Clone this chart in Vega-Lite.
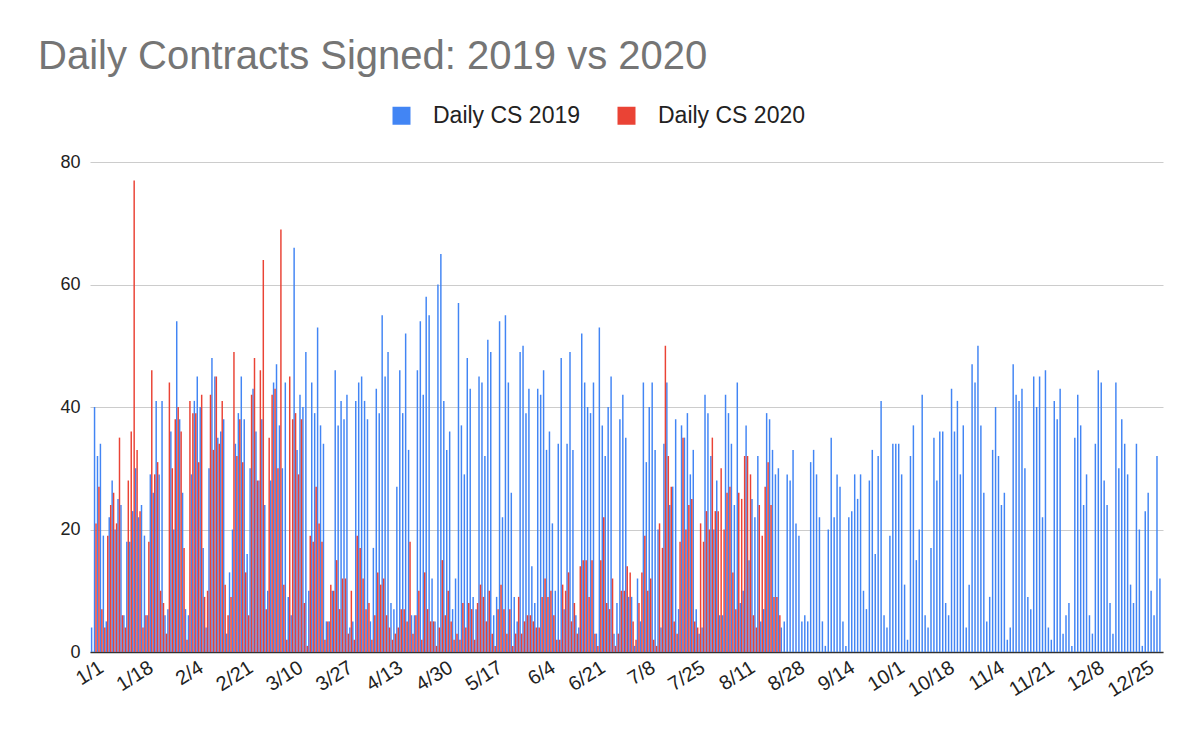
{
"$schema": "https://vega.github.io/schema/vega-lite/v6.json",
"width": 1073, "height": 490,
"autosize": {"type": "none"},
"padding": {"left": 90, "top": 162, "right": 37, "bottom": 90},
"background": "white",
"title": {"text": "Daily Contracts Signed: 2019 vs 2020", "anchor": "start", "frame": "group", "fontSize": 40, "font": "Liberation Sans", "fontWeight": "normal", "color": "#757575", "dx": -52, "dy": 0, "offset": 27},
"data": {"values": [
{"d":"1/1","s":"2019","v":4},{"d":"1/2","s":"2019","v":40},{"d":"1/3","s":"2019","v":32},{"d":"1/4","s":"2019","v":34},{"d":"1/5","s":"2019","v":19},{"d":"1/6","s":"2019","v":5},{"d":"1/7","s":"2019","v":22},{"d":"1/8","s":"2019","v":28},{"d":"1/9","s":"2019","v":20},{"d":"1/10","s":"2019","v":25},{"d":"1/11","s":"2019","v":24},{"d":"1/12","s":"2019","v":6},{"d":"1/13","s":"2019","v":18},{"d":"1/14","s":"2019","v":18},{"d":"1/15","s":"2019","v":23},{"d":"1/16","s":"2019","v":30},{"d":"1/17","s":"2019","v":22},{"d":"1/18","s":"2019","v":24},{"d":"1/19","s":"2019","v":19},{"d":"1/20","s":"2019","v":6},{"d":"1/21","s":"2019","v":29},{"d":"1/22","s":"2019","v":26},{"d":"1/23","s":"2019","v":41},{"d":"1/24","s":"2019","v":29},{"d":"1/25","s":"2019","v":41},{"d":"1/26","s":"2019","v":6},{"d":"1/27","s":"2019","v":7},{"d":"1/28","s":"2019","v":36},{"d":"1/29","s":"2019","v":20},{"d":"1/30","s":"2019","v":54},{"d":"1/31","s":"2019","v":38},
{"d":"2/1","s":"2019","v":26},{"d":"2/2","s":"2019","v":7},{"d":"2/3","s":"2019","v":6},{"d":"2/4","s":"2019","v":29},{"d":"2/5","s":"2019","v":41},{"d":"2/6","s":"2019","v":45},{"d":"2/7","s":"2019","v":40},{"d":"2/8","s":"2019","v":17},{"d":"2/9","s":"2019","v":4},{"d":"2/10","s":"2019","v":30},{"d":"2/11","s":"2019","v":48},{"d":"2/12","s":"2019","v":45},{"d":"2/13","s":"2019","v":35},{"d":"2/14","s":"2019","v":36},{"d":"2/15","s":"2019","v":38},{"d":"2/16","s":"2019","v":3},{"d":"2/17","s":"2019","v":13},{"d":"2/18","s":"2019","v":20},{"d":"2/19","s":"2019","v":34},{"d":"2/20","s":"2019","v":39},{"d":"2/21","s":"2019","v":45},{"d":"2/22","s":"2019","v":38},{"d":"2/23","s":"2019","v":16},{"d":"2/24","s":"2019","v":30},{"d":"2/25","s":"2019","v":43},{"d":"2/26","s":"2019","v":36},{"d":"2/27","s":"2019","v":28},{"d":"2/28","s":"2019","v":38},
{"d":"3/1","s":"2019","v":24},{"d":"3/2","s":"2019","v":10},{"d":"3/3","s":"2019","v":28},{"d":"3/4","s":"2019","v":44},{"d":"3/5","s":"2019","v":47},{"d":"3/6","s":"2019","v":37},{"d":"3/7","s":"2019","v":30},{"d":"3/8","s":"2019","v":44},{"d":"3/9","s":"2019","v":9},{"d":"3/10","s":"2019","v":6},{"d":"3/11","s":"2019","v":66},{"d":"3/12","s":"2019","v":33},{"d":"3/13","s":"2019","v":42},{"d":"3/14","s":"2019","v":40},{"d":"3/15","s":"2019","v":49},{"d":"3/16","s":"2019","v":10},{"d":"3/17","s":"2019","v":44},{"d":"3/18","s":"2019","v":39},{"d":"3/19","s":"2019","v":53},{"d":"3/20","s":"2019","v":37},{"d":"3/21","s":"2019","v":34},{"d":"3/22","s":"2019","v":5},{"d":"3/23","s":"2019","v":5},{"d":"3/24","s":"2019","v":10},{"d":"3/25","s":"2019","v":46},{"d":"3/26","s":"2019","v":37},{"d":"3/27","s":"2019","v":41},{"d":"3/28","s":"2019","v":38},{"d":"3/29","s":"2019","v":42},{"d":"3/30","s":"2019","v":4},{"d":"3/31","s":"2019","v":5},
{"d":"4/1","s":"2019","v":41},{"d":"4/2","s":"2019","v":44},{"d":"4/3","s":"2019","v":45},{"d":"4/4","s":"2019","v":41},{"d":"4/5","s":"2019","v":38},{"d":"4/6","s":"2019","v":5},{"d":"4/7","s":"2019","v":17},{"d":"4/8","s":"2019","v":43},{"d":"4/9","s":"2019","v":39},{"d":"4/10","s":"2019","v":55},{"d":"4/11","s":"2019","v":45},{"d":"4/12","s":"2019","v":49},{"d":"4/13","s":"2019","v":8},{"d":"4/14","s":"2019","v":7},{"d":"4/15","s":"2019","v":27},{"d":"4/16","s":"2019","v":46},{"d":"4/17","s":"2019","v":39},{"d":"4/18","s":"2019","v":52},{"d":"4/19","s":"2019","v":33},{"d":"4/20","s":"2019","v":6},{"d":"4/21","s":"2019","v":6},{"d":"4/22","s":"2019","v":46},{"d":"4/23","s":"2019","v":54},{"d":"4/24","s":"2019","v":42},{"d":"4/25","s":"2019","v":58},{"d":"4/26","s":"2019","v":55},{"d":"4/27","s":"2019","v":12},{"d":"4/28","s":"2019","v":5},{"d":"4/29","s":"2019","v":60},{"d":"4/30","s":"2019","v":65},
{"d":"5/1","s":"2019","v":41},{"d":"5/2","s":"2019","v":33},{"d":"5/3","s":"2019","v":36},{"d":"5/4","s":"2019","v":7},{"d":"5/5","s":"2019","v":12},{"d":"5/6","s":"2019","v":57},{"d":"5/7","s":"2019","v":37},{"d":"5/8","s":"2019","v":29},{"d":"5/9","s":"2019","v":48},{"d":"5/10","s":"2019","v":43},{"d":"5/11","s":"2019","v":9},{"d":"5/12","s":"2019","v":7},{"d":"5/13","s":"2019","v":45},{"d":"5/14","s":"2019","v":44},{"d":"5/15","s":"2019","v":32},{"d":"5/16","s":"2019","v":51},{"d":"5/17","s":"2019","v":49},{"d":"5/18","s":"2019","v":6},{"d":"5/19","s":"2019","v":9},{"d":"5/20","s":"2019","v":54},{"d":"5/21","s":"2019","v":22},{"d":"5/22","s":"2019","v":55},{"d":"5/23","s":"2019","v":44},{"d":"5/24","s":"2019","v":26},{"d":"5/25","s":"2019","v":9},{"d":"5/26","s":"2019","v":5},{"d":"5/27","s":"2019","v":49},{"d":"5/28","s":"2019","v":50},{"d":"5/29","s":"2019","v":39},{"d":"5/30","s":"2019","v":43},{"d":"5/31","s":"2019","v":14},
{"d":"6/1","s":"2019","v":8},{"d":"6/2","s":"2019","v":43},{"d":"6/3","s":"2019","v":42},{"d":"6/4","s":"2019","v":46},{"d":"6/5","s":"2019","v":33},{"d":"6/6","s":"2019","v":36},{"d":"6/7","s":"2019","v":21},{"d":"6/8","s":"2019","v":10},{"d":"6/9","s":"2019","v":34},{"d":"6/10","s":"2019","v":48},{"d":"6/11","s":"2019","v":7},{"d":"6/12","s":"2019","v":34},{"d":"6/13","s":"2019","v":49},{"d":"6/14","s":"2019","v":33},{"d":"6/15","s":"2019","v":6},{"d":"6/16","s":"2019","v":4},{"d":"6/17","s":"2019","v":52},{"d":"6/18","s":"2019","v":44},{"d":"6/19","s":"2019","v":40},{"d":"6/20","s":"2019","v":39},{"d":"6/21","s":"2019","v":44},{"d":"6/22","s":"2019","v":3},{"d":"6/23","s":"2019","v":53},{"d":"6/24","s":"2019","v":37},{"d":"6/25","s":"2019","v":32},{"d":"6/26","s":"2019","v":40},{"d":"6/27","s":"2019","v":45},{"d":"6/28","s":"2019","v":3},{"d":"6/29","s":"2019","v":8},{"d":"6/30","s":"2019","v":38},
{"d":"7/1","s":"2019","v":42},{"d":"7/2","s":"2019","v":35},{"d":"7/3","s":"2019","v":9},{"d":"7/4","s":"2019","v":9},{"d":"7/5","s":"2019","v":1},{"d":"7/6","s":"2019","v":12},{"d":"7/7","s":"2019","v":5},{"d":"7/8","s":"2019","v":44},{"d":"7/9","s":"2019","v":31},{"d":"7/10","s":"2019","v":40},{"d":"7/11","s":"2019","v":44},{"d":"7/12","s":"2019","v":33},{"d":"7/13","s":"2019","v":20},{"d":"7/14","s":"2019","v":4},{"d":"7/15","s":"2019","v":34},{"d":"7/16","s":"2019","v":44},{"d":"7/17","s":"2019","v":24},{"d":"7/18","s":"2019","v":27},{"d":"7/19","s":"2019","v":38},{"d":"7/20","s":"2019","v":7},{"d":"7/21","s":"2019","v":37},{"d":"7/22","s":"2019","v":35},{"d":"7/23","s":"2019","v":39},{"d":"7/24","s":"2019","v":29},{"d":"7/25","s":"2019","v":33},{"d":"7/26","s":"2019","v":7},{"d":"7/27","s":"2019","v":3},{"d":"7/28","s":"2019","v":4},{"d":"7/29","s":"2019","v":42},{"d":"7/30","s":"2019","v":39},{"d":"7/31","s":"2019","v":32},
{"d":"8/1","s":"2019","v":20},{"d":"8/2","s":"2019","v":28},{"d":"8/3","s":"2019","v":6},{"d":"8/4","s":"2019","v":6},{"d":"8/5","s":"2019","v":42},{"d":"8/6","s":"2019","v":39},{"d":"8/7","s":"2019","v":34},{"d":"8/8","s":"2019","v":24},{"d":"8/9","s":"2019","v":44},{"d":"8/10","s":"2019","v":8},{"d":"8/11","s":"2019","v":10},{"d":"8/12","s":"2019","v":37},{"d":"8/13","s":"2019","v":15},{"d":"8/14","s":"2019","v":25},{"d":"8/15","s":"2019","v":22},{"d":"8/16","s":"2019","v":32},{"d":"8/17","s":"2019","v":5},{"d":"8/18","s":"2019","v":7},{"d":"8/19","s":"2019","v":39},{"d":"8/20","s":"2019","v":38},{"d":"8/21","s":"2019","v":33},{"d":"8/22","s":"2019","v":29},{"d":"8/23","s":"2019","v":30},{"d":"8/24","s":"2019","v":4},{"d":"8/25","s":"2019","v":5},{"d":"8/26","s":"2019","v":29},{"d":"8/27","s":"2019","v":28},{"d":"8/28","s":"2019","v":33},{"d":"8/29","s":"2019","v":21},{"d":"8/30","s":"2019","v":19},{"d":"8/31","s":"2019","v":5},
{"d":"9/1","s":"2019","v":6},{"d":"9/2","s":"2019","v":5},{"d":"9/3","s":"2019","v":31},{"d":"9/4","s":"2019","v":33},{"d":"9/5","s":"2019","v":29},{"d":"9/6","s":"2019","v":22},{"d":"9/7","s":"2019","v":5},{"d":"9/8","s":"2019","v":1},{"d":"9/9","s":"2019","v":20},{"d":"9/10","s":"2019","v":35},{"d":"9/11","s":"2019","v":22},{"d":"9/12","s":"2019","v":29},{"d":"9/13","s":"2019","v":27},{"d":"9/14","s":"2019","v":5},{"d":"9/15","s":"2019","v":1},{"d":"9/16","s":"2019","v":22},{"d":"9/17","s":"2019","v":23},{"d":"9/18","s":"2019","v":29},{"d":"9/19","s":"2019","v":25},{"d":"9/20","s":"2019","v":29},{"d":"9/21","s":"2019","v":10},{"d":"9/22","s":"2019","v":7},{"d":"9/23","s":"2019","v":28},{"d":"9/24","s":"2019","v":33},{"d":"9/25","s":"2019","v":16},{"d":"9/26","s":"2019","v":32},{"d":"9/27","s":"2019","v":41},{"d":"9/28","s":"2019","v":6},{"d":"9/29","s":"2019","v":4},{"d":"9/30","s":"2019","v":19},
{"d":"10/1","s":"2019","v":34},{"d":"10/2","s":"2019","v":34},{"d":"10/3","s":"2019","v":34},{"d":"10/4","s":"2019","v":29},{"d":"10/5","s":"2019","v":11},{"d":"10/6","s":"2019","v":2},{"d":"10/7","s":"2019","v":32},{"d":"10/8","s":"2019","v":37},{"d":"10/9","s":"2019","v":15},{"d":"10/10","s":"2019","v":20},{"d":"10/11","s":"2019","v":42},{"d":"10/12","s":"2019","v":6},{"d":"10/13","s":"2019","v":4},{"d":"10/14","s":"2019","v":17},{"d":"10/15","s":"2019","v":35},{"d":"10/16","s":"2019","v":28},{"d":"10/17","s":"2019","v":36},{"d":"10/18","s":"2019","v":36},{"d":"10/19","s":"2019","v":8},{"d":"10/20","s":"2019","v":6},{"d":"10/21","s":"2019","v":43},{"d":"10/22","s":"2019","v":36},{"d":"10/23","s":"2019","v":41},{"d":"10/24","s":"2019","v":29},{"d":"10/25","s":"2019","v":37},{"d":"10/26","s":"2019","v":4},{"d":"10/27","s":"2019","v":11},{"d":"10/28","s":"2019","v":47},{"d":"10/29","s":"2019","v":44},{"d":"10/30","s":"2019","v":50},{"d":"10/31","s":"2019","v":37},
{"d":"11/1","s":"2019","v":26},{"d":"11/2","s":"2019","v":5},{"d":"11/3","s":"2019","v":9},{"d":"11/4","s":"2019","v":33},{"d":"11/5","s":"2019","v":40},{"d":"11/6","s":"2019","v":32},{"d":"11/7","s":"2019","v":24},{"d":"11/8","s":"2019","v":26},{"d":"11/9","s":"2019","v":2},{"d":"11/10","s":"2019","v":4},{"d":"11/11","s":"2019","v":47},{"d":"11/12","s":"2019","v":42},{"d":"11/13","s":"2019","v":41},{"d":"11/14","s":"2019","v":43},{"d":"11/15","s":"2019","v":30},{"d":"11/16","s":"2019","v":9},{"d":"11/17","s":"2019","v":7},{"d":"11/18","s":"2019","v":45},{"d":"11/19","s":"2019","v":40},{"d":"11/20","s":"2019","v":45},{"d":"11/21","s":"2019","v":22},{"d":"11/22","s":"2019","v":46},{"d":"11/23","s":"2019","v":4},{"d":"11/24","s":"2019","v":2},{"d":"11/25","s":"2019","v":41},{"d":"11/26","s":"2019","v":38},{"d":"11/27","s":"2019","v":43},{"d":"11/28","s":"2019","v":3},{"d":"11/29","s":"2019","v":6},{"d":"11/30","s":"2019","v":8},
{"d":"12/1","s":"2019","v":1},{"d":"12/2","s":"2019","v":35},{"d":"12/3","s":"2019","v":42},{"d":"12/4","s":"2019","v":37},{"d":"12/5","s":"2019","v":24},{"d":"12/6","s":"2019","v":29},{"d":"12/7","s":"2019","v":6},{"d":"12/8","s":"2019","v":3},{"d":"12/9","s":"2019","v":34},{"d":"12/10","s":"2019","v":46},{"d":"12/11","s":"2019","v":44},{"d":"12/12","s":"2019","v":28},{"d":"12/13","s":"2019","v":24},{"d":"12/14","s":"2019","v":8},{"d":"12/15","s":"2019","v":3},{"d":"12/16","s":"2019","v":44},{"d":"12/17","s":"2019","v":30},{"d":"12/18","s":"2019","v":38},{"d":"12/19","s":"2019","v":34},{"d":"12/20","s":"2019","v":29},{"d":"12/21","s":"2019","v":11},{"d":"12/22","s":"2019","v":8},{"d":"12/23","s":"2019","v":34},{"d":"12/24","s":"2019","v":20},{"d":"12/25","s":"2019","v":1},{"d":"12/26","s":"2019","v":23},{"d":"12/27","s":"2019","v":26},{"d":"12/28","s":"2019","v":10},{"d":"12/29","s":"2019","v":6},{"d":"12/30","s":"2019","v":32},{"d":"12/31","s":"2019","v":12},
{"d":"1/2","s":"2020","v":21},{"d":"1/3","s":"2020","v":27},{"d":"1/4","s":"2020","v":7},{"d":"1/5","s":"2020","v":4},{"d":"1/6","s":"2020","v":19},{"d":"1/7","s":"2020","v":24},{"d":"1/8","s":"2020","v":26},{"d":"1/9","s":"2020","v":21},{"d":"1/10","s":"2020","v":35},{"d":"1/11","s":"2020","v":6},{"d":"1/12","s":"2020","v":4},{"d":"1/13","s":"2020","v":28},{"d":"1/14","s":"2020","v":36},{"d":"1/15","s":"2020","v":77},{"d":"1/16","s":"2020","v":33},{"d":"1/17","s":"2020","v":23},{"d":"1/18","s":"2020","v":4},{"d":"1/19","s":"2020","v":6},{"d":"1/20","s":"2020","v":18},{"d":"1/21","s":"2020","v":46},{"d":"1/22","s":"2020","v":29},{"d":"1/23","s":"2020","v":31},{"d":"1/24","s":"2020","v":10},{"d":"1/25","s":"2020","v":8},{"d":"1/26","s":"2020","v":3},{"d":"1/27","s":"2020","v":44},{"d":"1/28","s":"2020","v":30},{"d":"1/29","s":"2020","v":38},{"d":"1/30","s":"2020","v":40},{"d":"1/31","s":"2020","v":36},
{"d":"2/1","s":"2020","v":17},{"d":"2/2","s":"2020","v":2},{"d":"2/3","s":"2020","v":41},{"d":"2/4","s":"2020","v":39},{"d":"2/5","s":"2020","v":39},{"d":"2/6","s":"2020","v":31},{"d":"2/7","s":"2020","v":42},{"d":"2/8","s":"2020","v":9},{"d":"2/9","s":"2020","v":10},{"d":"2/10","s":"2020","v":42},{"d":"2/11","s":"2020","v":33},{"d":"2/12","s":"2020","v":45},{"d":"2/13","s":"2020","v":34},{"d":"2/14","s":"2020","v":41},{"d":"2/15","s":"2020","v":11},{"d":"2/16","s":"2020","v":6},{"d":"2/17","s":"2020","v":9},{"d":"2/18","s":"2020","v":49},{"d":"2/19","s":"2020","v":32},{"d":"2/20","s":"2020","v":38},{"d":"2/21","s":"2020","v":31},{"d":"2/22","s":"2020","v":13},{"d":"2/23","s":"2020","v":6},{"d":"2/24","s":"2020","v":42},{"d":"2/25","s":"2020","v":48},{"d":"2/26","s":"2020","v":28},{"d":"2/27","s":"2020","v":46},{"d":"2/28","s":"2020","v":64},
{"d":"3/1","s":"2020","v":7},{"d":"3/2","s":"2020","v":35},{"d":"3/3","s":"2020","v":42},{"d":"3/4","s":"2020","v":43},{"d":"3/5","s":"2020","v":30},{"d":"3/6","s":"2020","v":69},{"d":"3/7","s":"2020","v":11},{"d":"3/8","s":"2020","v":2},{"d":"3/9","s":"2020","v":45},{"d":"3/10","s":"2020","v":38},{"d":"3/11","s":"2020","v":39},{"d":"3/12","s":"2020","v":29},{"d":"3/13","s":"2020","v":38},{"d":"3/14","s":"2020","v":8},{"d":"3/15","s":"2020","v":1},{"d":"3/16","s":"2020","v":19},{"d":"3/17","s":"2020","v":18},{"d":"3/18","s":"2020","v":27},{"d":"3/19","s":"2020","v":21},{"d":"3/20","s":"2020","v":18},{"d":"3/21","s":"2020","v":2},{"d":"3/22","s":"2020","v":5},{"d":"3/23","s":"2020","v":11},{"d":"3/24","s":"2020","v":10},{"d":"3/25","s":"2020","v":15},{"d":"3/26","s":"2020","v":7},{"d":"3/27","s":"2020","v":12},{"d":"3/28","s":"2020","v":12},{"d":"3/29","s":"2020","v":3},{"d":"3/30","s":"2020","v":10},{"d":"3/31","s":"2020","v":2},
{"d":"4/1","s":"2020","v":19},{"d":"4/2","s":"2020","v":17},{"d":"4/3","s":"2020","v":12},{"d":"4/4","s":"2020","v":7},{"d":"4/5","s":"2020","v":8},{"d":"4/6","s":"2020","v":2},{"d":"4/7","s":"2020","v":6},{"d":"4/8","s":"2020","v":13},{"d":"4/9","s":"2020","v":11},{"d":"4/10","s":"2020","v":12},{"d":"4/11","s":"2020","v":6},{"d":"4/12","s":"2020","v":4},{"d":"4/13","s":"2020","v":2},{"d":"4/14","s":"2020","v":3},{"d":"4/15","s":"2020","v":4},{"d":"4/16","s":"2020","v":7},{"d":"4/17","s":"2020","v":7},{"d":"4/18","s":"2020","v":5},{"d":"4/19","s":"2020","v":18},{"d":"4/20","s":"2020","v":3},{"d":"4/21","s":"2020","v":6},{"d":"4/22","s":"2020","v":10},{"d":"4/23","s":"2020","v":2},{"d":"4/24","s":"2020","v":13},{"d":"4/25","s":"2020","v":7},{"d":"4/26","s":"2020","v":5},{"d":"4/27","s":"2020","v":5},{"d":"4/28","s":"2020","v":1},{"d":"4/29","s":"2020","v":4},{"d":"4/30","s":"2020","v":15},
{"d":"5/1","s":"2020","v":6},{"d":"5/2","s":"2020","v":10},{"d":"5/3","s":"2020","v":5},{"d":"5/4","s":"2020","v":2},{"d":"5/5","s":"2020","v":3},{"d":"5/6","s":"2020","v":2},{"d":"5/7","s":"2020","v":8},{"d":"5/8","s":"2020","v":4},{"d":"5/9","s":"2020","v":8},{"d":"5/10","s":"2020","v":7},{"d":"5/11","s":"2020","v":2},{"d":"5/12","s":"2020","v":8},{"d":"5/13","s":"2020","v":11},{"d":"5/14","s":"2020","v":9},{"d":"5/15","s":"2020","v":5},{"d":"5/16","s":"2020","v":10},{"d":"5/17","s":"2020","v":3},{"d":"5/18","s":"2020","v":1},{"d":"5/19","s":"2020","v":7},{"d":"5/20","s":"2020","v":11},{"d":"5/21","s":"2020","v":7},{"d":"5/22","s":"2020","v":3},{"d":"5/23","s":"2020","v":7},{"d":"5/24","s":"2020","v":1},{"d":"5/25","s":"2020","v":3},{"d":"5/26","s":"2020","v":9},{"d":"5/27","s":"2020","v":3},{"d":"5/28","s":"2020","v":5},{"d":"5/29","s":"2020","v":6},{"d":"5/30","s":"2020","v":6},{"d":"5/31","s":"2020","v":5},
{"d":"6/1","s":"2020","v":4},{"d":"6/2","s":"2020","v":4},{"d":"6/3","s":"2020","v":9},{"d":"6/4","s":"2020","v":12},{"d":"6/5","s":"2020","v":9},{"d":"6/6","s":"2020","v":10},{"d":"6/7","s":"2020","v":6},{"d":"6/8","s":"2020","v":2},{"d":"6/9","s":"2020","v":2},{"d":"6/10","s":"2020","v":11},{"d":"6/11","s":"2020","v":10},{"d":"6/12","s":"2020","v":13},{"d":"6/13","s":"2020","v":5},{"d":"6/14","s":"2020","v":8},{"d":"6/15","s":"2020","v":3},{"d":"6/16","s":"2020","v":14},{"d":"6/17","s":"2020","v":15},{"d":"6/18","s":"2020","v":15},{"d":"6/19","s":"2020","v":9},{"d":"6/20","s":"2020","v":15},{"d":"6/21","s":"2020","v":3},{"d":"6/22","s":"2020","v":1},{"d":"6/23","s":"2020","v":15},{"d":"6/24","s":"2020","v":22},{"d":"6/25","s":"2020","v":8},{"d":"6/26","s":"2020","v":7},{"d":"6/27","s":"2020","v":12},{"d":"6/28","s":"2020","v":1},{"d":"6/29","s":"2020","v":3},{"d":"6/30","s":"2020","v":10},
{"d":"7/1","s":"2020","v":10},{"d":"7/2","s":"2020","v":14},{"d":"7/3","s":"2020","v":13},{"d":"7/4","s":"2020","v":5},{"d":"7/5","s":"2020","v":2},{"d":"7/6","s":"2020","v":8},{"d":"7/7","s":"2020","v":13},{"d":"7/8","s":"2020","v":19},{"d":"7/9","s":"2020","v":10},{"d":"7/10","s":"2020","v":12},{"d":"7/11","s":"2020","v":2},{"d":"7/12","s":"2020","v":1},{"d":"7/13","s":"2020","v":21},{"d":"7/14","s":"2020","v":17},{"d":"7/15","s":"2020","v":50},{"d":"7/16","s":"2020","v":32},{"d":"7/17","s":"2020","v":27},{"d":"7/18","s":"2020","v":5},{"d":"7/19","s":"2020","v":3},{"d":"7/20","s":"2020","v":18},{"d":"7/21","s":"2020","v":35},{"d":"7/22","s":"2020","v":20},{"d":"7/23","s":"2020","v":24},{"d":"7/24","s":"2020","v":25},{"d":"7/25","s":"2020","v":5},{"d":"7/26","s":"2020","v":4},{"d":"7/27","s":"2020","v":21},{"d":"7/28","s":"2020","v":18},{"d":"7/29","s":"2020","v":23},{"d":"7/30","s":"2020","v":20},{"d":"7/31","s":"2020","v":35},
{"d":"8/1","s":"2020","v":23},{"d":"8/2","s":"2020","v":23},{"d":"8/3","s":"2020","v":30},{"d":"8/4","s":"2020","v":20},{"d":"8/5","s":"2020","v":26},{"d":"8/6","s":"2020","v":27},{"d":"8/7","s":"2020","v":13},{"d":"8/8","s":"2020","v":7},{"d":"8/9","s":"2020","v":26},{"d":"8/10","s":"2020","v":25},{"d":"8/11","s":"2020","v":32},{"d":"8/12","s":"2020","v":32},{"d":"8/13","s":"2020","v":29},{"d":"8/14","s":"2020","v":6},{"d":"8/15","s":"2020","v":4},{"d":"8/16","s":"2020","v":24},{"d":"8/17","s":"2020","v":19},{"d":"8/18","s":"2020","v":27},{"d":"8/19","s":"2020","v":31},{"d":"8/20","s":"2020","v":24},{"d":"8/21","s":"2020","v":9},{"d":"8/22","s":"2020","v":9},{"d":"8/23","s":"2020","v":6}
]},
"mark": {"type": "bar"},
"encoding": {
"x": {"field": "d", "type": "ordinal", "sort": null, "scale": {"paddingInner": 0, "paddingOuter": 0.3},
 "axis": {"title": null, "values": ["1/1","1/18","2/4","2/21","3/10","3/27","4/13","4/30","5/17","6/4","6/21","7/8","7/25","8/11","8/28","9/14","10/1","10/18","11/4","11/21","12/8","12/25"],
  "labelAngle": -32, "labelFontSize": 20, "labelFont": "Liberation Sans", "labelColor": "#222222", "ticks": false, "domainColor": "#333333", "domainWidth": 1.5, "labelPadding": 5, "labelOffset": 4, "labelOverlap": false, "grid": false}},
"xOffset": {"field": "s", "type": "nominal", "sort": ["2019", "2020"]},
"y": {"field": "v", "type": "quantitative", "scale": {"domain": [0, 80]},
 "axis": {"title": null, "values": [0, 20, 40, 60, 80], "domain": false, "ticks": false, "labelFontSize": 18, "labelFont": "Liberation Sans", "labelColor": "#222222", "labelPadding": 10, "gridColor": "#cccccc", "gridWidth": 1}},
"color": {"field": "s", "type": "nominal", "scale": {"domain": ["2019", "2020"], "range": ["#4285F4", "#EA4335"]},
 "legend": {"title": null, "orient": "none", "legendX": 300, "legendY": -58, "direction": "horizontal", "symbolType": "square", "symbolSize": 324, "symbolStrokeWidth": 0, "labelFontSize": 23, "labelFont": "Liberation Sans", "labelColor": "#222222", "labelExpr": "'Daily CS ' + datum.label", "labelOffset": 20, "columnPadding": 34}}
},
"config": {"view": {"stroke": null}}
}
